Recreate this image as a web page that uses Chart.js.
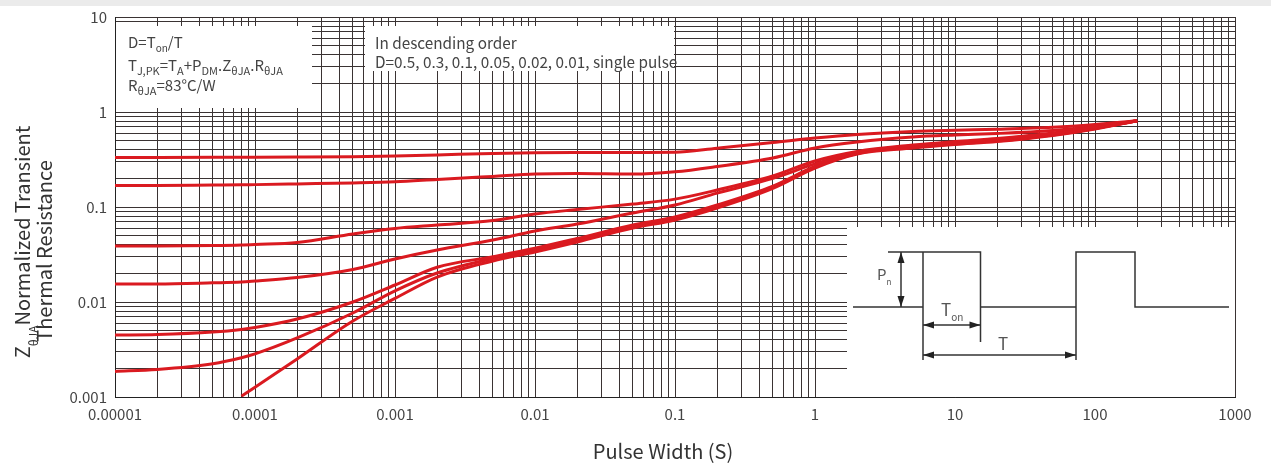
<!DOCTYPE html>
<html>
<head>
<meta charset="utf-8">
<title>Transient Thermal Resistance</title>
<script src="https://cdn.jsdelivr.net/npm/chart.js@4.4.1/dist/chart.umd.min.js"></script>
<style>
  html, body { margin: 0; padding: 0; background: #fff; }
  #wrap { position: relative; width: 1271px; height: 463px; }
  #thermalChart { display: block; }
  #topbar { position: absolute; left: 0; top: 0; width: 1271px; height: 6px; background: #ebebeb; }
</style>
</head>
<body>
<div id="wrap">
  <canvas id="thermalChart" width="1271" height="463"></canvas>
  <div id="topbar"></div>
</div>
<script>
const pulseWidth = [1e-5, 2e-5, 5e-5, 8e-5, 1e-4, 2e-4, 5e-4, 1e-3, 2e-3, 5e-3, 0.01, 0.02, 0.05, 0.1, 0.2, 0.5, 1, 2, 5, 10, 20, 50, 100, 200];

// normalized transient thermal resistance, one array per duty cycle
const dutyLabels = ["D=0.5", "D=0.3", "D=0.1", "D=0.05", "D=0.02", "D=0.01", "Single pulse"];
const d050 = [0.332, 0.332, 0.333, 0.334, 0.334, 0.335, 0.338, 0.344, 0.353, 0.366, 0.373, 0.375, 0.375, 0.376, 0.416, 0.477, 0.532, 0.58, 0.623, 0.642, 0.658, 0.69, 0.739, 0.81];
const d030 = [0.168, 0.168, 0.170, 0.171, 0.172, 0.175, 0.179, 0.184, 0.195, 0.21, 0.222, 0.225, 0.222, 0.235, 0.267, 0.328, 0.418, 0.483, 0.546, 0.573, 0.594, 0.639, 0.704, 0.81];
const d010 = [0.0389, 0.0389, 0.0393, 0.0398, 0.0403, 0.0423, 0.052, 0.0594, 0.0646, 0.0721, 0.0844, 0.0941, 0.1075, 0.121, 0.151, 0.212, 0.305, 0.384, 0.449, 0.489, 0.526, 0.601, 0.687, 0.81];
const d005 = [0.0155, 0.0155, 0.0159, 0.0162, 0.0166, 0.0181, 0.022, 0.0284, 0.0353, 0.0449, 0.0559, 0.0662, 0.0865, 0.105, 0.140, 0.200, 0.284, 0.375, 0.439, 0.478, 0.514, 0.587, 0.679, 0.81];
const d002 = [0.00449, 0.00455, 0.00483, 0.00514, 0.00539, 0.00662, 0.0100, 0.0151, 0.0232, 0.0300, 0.0368, 0.0466, 0.0646, 0.0785, 0.105, 0.166, 0.267, 0.370, 0.428, 0.466, 0.501, 0.58, 0.67, 0.81];
const d001 = [0.00186, 0.00195, 0.00224, 0.00259, 0.00284, 0.00418, 0.00766, 0.0131, 0.0202, 0.0287, 0.0348, 0.0444, 0.0623, 0.0757, 0.101, 0.162, 0.264, 0.366, 0.423, 0.460, 0.495, 0.573, 0.67, 0.81];
const singlePulse = [null, null, null, 0.00102, 0.00127, 0.00251, 0.00631, 0.0109, 0.0183, 0.0270, 0.0336, 0.0428, 0.0601, 0.0730, 0.0976, 0.157, 0.257, 0.361, 0.418, 0.455, 0.489, 0.566, 0.663, 0.81];

// axis tick labels (one per decade)
const xTickLabels = ["0.00001", "0.0001", "0.001", "0.01", "0.1", "1", "10", "100", "1000"];
const yTickLabels = ["0.001", "0.01", "0.1", "1", "10"];

const FONT = '"Noto Sans CJK SC", "Noto Sans", sans-serif';
const RED = "#da1a20";
const TEXT = "#444";

const seriesList = [d050, d030, d010, d005, d002, d001, singlePulse];

const datasets = seriesList.map((vals, k) => ({
  label: dutyLabels[k],
  data: pulseWidth.map((x, i) => ({ x: x, y: vals[i] })).filter((p) => p.y !== null),
  borderColor: RED,
  backgroundColor: RED,
  borderWidth: 3,
  pointRadius: 0,
  cubicInterpolationMode: "monotone",
  fill: false,
}));

// 1..9 x 10^e for every decade of the axis
function logTicks(minExp, maxExp) {
  const out = [];
  for (let e = minExp; e < maxExp; e++) {
    for (let m = 1; m <= 9; m++) out.push({ value: Number((m * Math.pow(10, e)).toPrecision(6)) });
  }
  out.push({ value: Math.pow(10, maxExp) });
  return out;
}

function decadeLabel(value, labels, minExp) {
  const e = Math.log10(value);
  const r = Math.round(e);
  if (Math.abs(e - r) > 1e-6) return "";
  return labels[r - minExp] || "";
}

// text with _{sub} parts
function drawRich(ctx, x, y, str, size, subSize, subDrop) {
  const parts = str.split(/_\{([^}]*)\}/);
  let cx = x;
  parts.forEach((txt, i) => {
    if (!txt) return;
    const sub = i % 2 === 1;
    ctx.font = (sub ? subSize : size) + "px " + FONT;
    ctx.fillText(txt, cx, sub ? y + subDrop : y);
    cx += ctx.measureText(txt).width;
  });
  return cx - x;
}

function richWidth(ctx, str, size, subSize) {
  const parts = str.split(/_\{([^}]*)\}/);
  let w = 0;
  parts.forEach((txt, i) => {
    if (!txt) return;
    ctx.font = (i % 2 === 1 ? subSize : size) + "px " + FONT;
    w += ctx.measureText(txt).width;
  });
  return w;
}

function arrow(ctx, x1, y1, x2, y2) {
  // line with heads at both ends
  const L = 11, W = 3.5;
  ctx.beginPath();
  ctx.moveTo(x1, y1);
  ctx.lineTo(x2, y2);
  ctx.stroke();
  const ang = Math.atan2(y2 - y1, x2 - x1);
  [[x1, y1, ang + Math.PI], [x2, y2, ang]].forEach(([px, py, a]) => {
    ctx.beginPath();
    ctx.moveTo(px, py);
    ctx.lineTo(px - L * Math.cos(a) + W * Math.sin(a), py - L * Math.sin(a) - W * Math.cos(a));
    ctx.lineTo(px - L * Math.cos(a) - W * Math.sin(a), py - L * Math.sin(a) + W * Math.cos(a));
    ctx.closePath();
    ctx.fill();
  });
}

const notesPlugin = {
  id: "notes",
  beforeDatasetsDraw(chart) {
    const ctx = chart.ctx;
    const ca = chart.chartArea;
    ctx.save();

    // formula box
    ctx.fillStyle = "#fff";
    ctx.fillRect(ca.left + 1, ca.top + 9, 196, 82);
    // order box
    ctx.fillRect(ca.left + 250, ca.top + 9, 309, 45);

    ctx.fillStyle = TEXT;
    ctx.textBaseline = "alphabetic";
    ctx.textAlign = "left";
    const bx = ca.left + 13;
    drawRich(ctx, bx, ca.top + 31, "D=T_{on}/T", 15, 10, 4);
    drawRich(ctx, bx, ca.top + 54, "T_{J,PK}=T_{A}+P_{DM}.Z_{\u03b8JA}.R_{\u03b8JA}", 15, 11, 4);
    drawRich(ctx, bx, ca.top + 74, "R_{\u03b8JA}=83\u00b0C/W", 15, 11, 4);

    ctx.font = "15.3px " + FONT;
    ctx.fillText("In descending order", ca.left + 260, ca.top + 32);
    ctx.fillText("D=0.5, 0.3, 0.1, 0.05, 0.02, 0.01, single pulse", ca.left + 260, ca.top + 51);

    // pulse train inset
    const ox = ca.right - 388, oy = ca.bottom - 170;
    ctx.fillStyle = "#fff";
    ctx.fillRect(ox, oy, 388, 170);
    ctx.translate(ox, oy);
    ctx.strokeStyle = "#333";
    ctx.fillStyle = "#222";
    ctx.lineWidth = 1.5;
    ctx.beginPath();
    ctx.moveTo(6, 80); ctx.lineTo(76, 80); ctx.lineTo(76, 25); ctx.lineTo(133.5, 25);
    ctx.lineTo(133.5, 80); ctx.lineTo(229, 80); ctx.lineTo(229, 25); ctx.lineTo(288, 25);
    ctx.lineTo(288, 80); ctx.lineTo(382, 80);
    ctx.moveTo(41, 25); ctx.lineTo(76, 25);
    ctx.moveTo(76, 80); ctx.lineTo(76, 133);
    ctx.moveTo(133.5, 80); ctx.lineTo(133.5, 115);
    ctx.moveTo(229, 80); ctx.lineTo(229, 133);
    ctx.stroke();
    arrow(ctx, 54, 25, 54, 80);
    arrow(ctx, 76, 98, 133.5, 98);
    arrow(ctx, 76, 128, 229, 128);

    ctx.fillStyle = "#555";
    drawRich(ctx, 30, 53, "P_{n}", 15, 8, 5);
    drawRich(ctx, 94, 89, "T_{on}", 17, 10, 5);
    ctx.font = "17px " + FONT;
    ctx.textAlign = "center";
    ctx.fillText("T", 156, 123);
    ctx.restore();
  },
  afterDraw(chart) {
    const ctx = chart.ctx;
    const ca = chart.chartArea;
    ctx.save();
    ctx.fillStyle = "#333";
    ctx.textBaseline = "alphabetic";
    ctx.textAlign = "left";

    // x axis title
    ctx.font = "20px " + FONT;
    const xt = "Pulse Width (S)";
    const xw = ctx.measureText(xt).width;
    ctx.fillText(xt, (ca.left + ca.right) / 2 - 12 - xw / 2, 459);

    // y axis title, two rotated lines
    const l1 = "Z_{\u03b8JA}Normalized Transient";
    const l2 = "Thermal Resistance";
    ctx.save();
    ctx.translate(30, 242);
    ctx.rotate(-Math.PI / 2);
    drawRich(ctx, -richWidth(ctx, l1, 20, 12) / 2, 0, l1, 20, 12, 8);
    ctx.restore();
    ctx.save();
    ctx.translate(52, 251);
    ctx.rotate(-Math.PI / 2);
    ctx.font = "20px " + FONT;
    ctx.textAlign = "center";
    ctx.fillText(l2, 0, 0);
    ctx.restore();

    ctx.restore();
  },
};

const gridColor = "#3a3333";

new Chart(document.getElementById("thermalChart"), {
  type: "line",
  data: { datasets: datasets },
  options: {
    responsive: false,
    animation: false,
    devicePixelRatio: 1,
    layout: { padding: { top: 17, right: 36, bottom: 0, left: 0 } },
    plugins: {
      legend: { display: false },
      tooltip: { enabled: false },
    },
    scales: {
      x: {
        type: "logarithmic",
        min: 1e-5,
        max: 1000,
        afterBuildTicks: (scale) => { scale.ticks = logTicks(-5, 3); },
        afterFit: (scale) => { scale.height = 66; scale.paddingLeft = 0; scale.paddingRight = 0; },
        grid: { color: gridColor, lineWidth: 1, drawTicks: false },
        border: { color: "#222", width: 1 },
        ticks: {
          autoSkip: false,
          maxRotation: 0,
          minRotation: 0,
          padding: 8,
          color: TEXT,
          font: { family: FONT, size: 15 },
          callback: (v) => decadeLabel(v, xTickLabels, -5),
        },
      },
      y: {
        type: "logarithmic",
        min: 0.001,
        max: 10,
        afterBuildTicks: (scale) => { scale.ticks = logTicks(-3, 1); },
        afterFit: (scale) => { scale.width = 115; scale.paddingTop = 0; scale.paddingBottom = 0; },
        grid: { color: gridColor, lineWidth: 1, drawTicks: false },
        border: { color: "#222", width: 1 },
        ticks: {
          autoSkip: false,
          padding: 8,
          color: TEXT,
          font: { family: FONT, size: 15 },
          callback: (v) => decadeLabel(v, yTickLabels, -3),
        },
      },
    },
  },
  plugins: [notesPlugin],
});
</script>
</body>
</html>
